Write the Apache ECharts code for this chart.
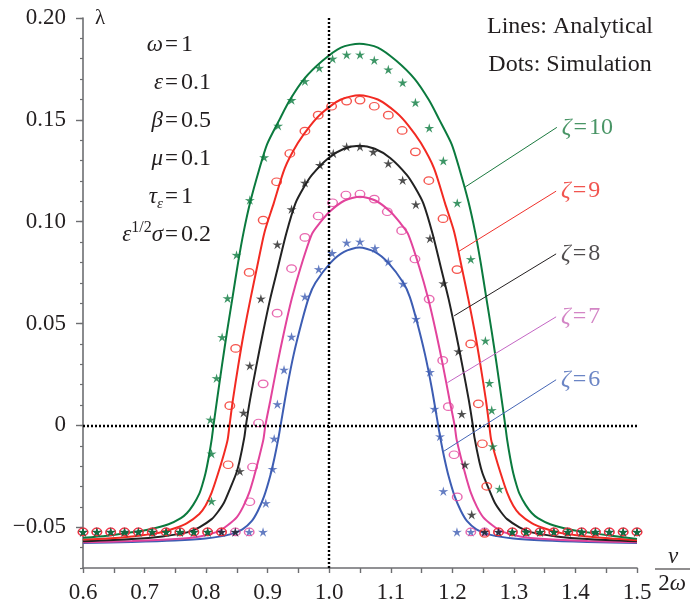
<!DOCTYPE html>
<html><head><meta charset="utf-8">
<script src="https://cdn.jsdelivr.net/npm/echarts@6/dist/echarts.min.js"></script>
<style>html,body{margin:0;padding:0;background:#fff}#c{width:691px;height:607px}</style>
</head><body><div id="c"></div>
<script>
// ---------- axis ticks / labels ----------
const xLabels = [0.6,0.7,0.8,0.9,1.0,1.1,1.2,1.3,1.4,1.5];
const yLabels = [-0.05,0,0.05,0.10,0.15,0.20];

// ---------- analytical curves (lines) ----------
const z10Nu  = [0.600,0.639,0.679,0.709,0.739,0.759,0.769,0.779,0.789,0.794,0.799,0.804,0.809,0.812,0.818,0.826,0.834,0.843,0.852,0.861,0.872,0.886,0.899,0.919,0.936,0.959,0.989,1.019,1.049,1.079,1.109,1.139,1.162,1.179,1.199,1.212,1.226,1.237,1.246,1.255,1.264,1.272,1.280,1.286,1.289,1.294,1.299,1.304,1.309,1.319,1.329,1.339,1.359,1.389,1.419,1.459,1.500];
const z10Lam = [-0.0552,-0.0542,-0.0525,-0.0510,-0.0485,-0.0455,-0.0430,-0.0390,-0.0335,-0.0290,-0.0235,-0.0160,-0.0070,0.0000,0.0130,0.0300,0.0460,0.0630,0.0800,0.0950,0.1100,0.1254,0.1380,0.1500,0.1597,0.1700,0.1790,0.1855,0.1874,0.1855,0.1790,0.1700,0.1597,0.1500,0.1380,0.1254,0.1100,0.0950,0.0800,0.0630,0.0460,0.0300,0.0130,0.0000,-0.0070,-0.0160,-0.0235,-0.0290,-0.0335,-0.0390,-0.0430,-0.0455,-0.0485,-0.0510,-0.0525,-0.0542,-0.0557];

const z9Nu  = [0.600,0.639,0.679,0.719,0.749,0.769,0.789,0.799,0.809,0.819,0.829,0.835,0.838,0.8435,0.852,0.861,0.872,0.883,0.895,0.9098,0.9277,0.949,0.969,0.989,1.019,1.049,1.079,1.109,1.129,1.149,1.1703,1.1882,1.203,1.215,1.226,1.237,1.246,1.2545,1.260,1.263,1.269,1.279,1.289,1.299,1.309,1.329,1.349,1.379,1.419,1.459,1.500];
const z9Lam = [-0.0560,-0.0555,-0.0545,-0.0530,-0.0505,-0.0480,-0.0435,-0.0395,-0.0330,-0.0240,-0.0140,-0.0070,0.0000,0.0125,0.0290,0.0450,0.0620,0.0780,0.0950,0.1090,0.1262,0.1386,0.1471,0.1536,0.1600,0.1621,0.1600,0.1536,0.1471,0.1386,0.1262,0.1090,0.0950,0.0780,0.0620,0.0450,0.0290,0.0125,0.0000,-0.0070,-0.0140,-0.0240,-0.0330,-0.0395,-0.0435,-0.0480,-0.0505,-0.0530,-0.0545,-0.0555,-0.0564];

const z8Nu  = [0.600,0.679,0.729,0.769,0.789,0.809,0.819,0.829,0.839,0.849,0.854,0.862,0.8647,0.8713,0.8815,0.892,0.904,0.917,0.930,0.9451,0.959,0.972,0.999,1.024,1.049,1.074,1.099,1.126,1.139,1.1529,1.168,1.181,1.194,1.206,1.2165,1.2267,1.2333,1.236,1.244,1.249,1.259,1.269,1.279,1.289,1.309,1.329,1.369,1.419,1.500];
const z8Lam = [-0.0569,-0.0558,-0.0545,-0.0525,-0.0500,-0.0460,-0.0425,-0.0380,-0.0310,-0.0235,-0.0180,-0.0060,0.0000,0.0125,0.0290,0.0450,0.0620,0.0780,0.0940,0.1090,0.1170,0.1230,0.1313,0.1358,0.1373,0.1358,0.1313,0.1230,0.1170,0.1090,0.0940,0.0780,0.0620,0.0450,0.0290,0.0125,0.0000,-0.0060,-0.0180,-0.0235,-0.0310,-0.0380,-0.0425,-0.0460,-0.0500,-0.0525,-0.0545,-0.0558,-0.0569];

const z7Nu  = [0.600,0.680,0.750,0.790,0.820,0.835,0.850,0.860,0.870,0.878,0.885,0.893,0.8963,0.9045,0.915,0.926,0.939,0.954,0.972,0.985,1.001,1.025,1.050,1.075,1.099,1.115,1.128,1.146,1.161,1.174,1.185,1.1955,1.2037,1.207,1.215,1.222,1.230,1.240,1.250,1.265,1.280,1.310,1.350,1.420,1.500];
const z7Lam = [-0.0574,-0.0568,-0.0558,-0.0545,-0.0520,-0.0490,-0.0450,-0.0400,-0.0330,-0.0250,-0.0170,-0.0070,0.0000,0.0125,0.0290,0.0450,0.0620,0.0780,0.0940,0.0995,0.1050,0.1104,0.1123,0.1104,0.1050,0.0995,0.0940,0.0780,0.0620,0.0450,0.0290,0.0125,0.0000,-0.0070,-0.0170,-0.0250,-0.0330,-0.0400,-0.0450,-0.0490,-0.0520,-0.0545,-0.0558,-0.0568,-0.0574];

const z6Nu  = [0.600,0.679,0.749,0.799,0.839,0.859,0.874,0.884,0.894,0.904,0.911,0.917,0.921,0.9315,0.9424,0.956,0.967,0.9776,1.002,1.024,1.049,1.074,1.096,1.1204,1.131,1.142,1.1555,1.1665,1.177,1.181,1.187,1.194,1.204,1.214,1.224,1.239,1.259,1.299,1.349,1.419,1.500];
const z6Lam = [-0.0577,-0.0572,-0.0565,-0.0555,-0.0535,-0.0510,-0.0470,-0.0420,-0.0350,-0.0250,-0.0160,-0.0070,0.0000,0.0185,0.0350,0.0515,0.0630,0.0700,0.0798,0.0852,0.0873,0.0852,0.0798,0.0700,0.0630,0.0515,0.0350,0.0185,0.0000,-0.0070,-0.0160,-0.0250,-0.0350,-0.0420,-0.0470,-0.0510,-0.0535,-0.0555,-0.0565,-0.0572,-0.0577];

// ---------- simulation dots ----------
const d10Nu  = [0.6,0.6225,0.645,0.6675,0.69,0.7125,0.735,0.7575,0.78,0.8025,0.8088,0.8088,0.807,0.817,0.826,0.8348,0.8494,0.871,0.8943,0.917,0.9388,0.9605,0.9838,1.0055,1.0283,1.05,1.0732,1.096,1.1193,1.140,1.1625,1.1854,1.208,1.230,1.2537,1.2602,1.264,1.2657,1.2765,1.2975,1.32,1.3425,1.365,1.3875,1.41,1.4325,1.455,1.4775,1.5];
const d10Lam = [-0.0523,-0.0523,-0.0523,-0.0523,-0.0523,-0.0523,-0.0523,-0.0523,-0.0523,-0.0523,-0.0372,-0.0139,0.0028,0.0232,0.0433,0.0624,0.0837,0.1106,0.1316,0.1471,0.1597,0.1690,0.1755,0.1800,0.1820,0.1820,0.1793,0.1747,0.1683,0.1585,0.1460,0.1299,0.1092,0.0816,0.0416,0.0208,0.0075,-0.0103,-0.0312,-0.0523,-0.0523,-0.0523,-0.0523,-0.0523,-0.0523,-0.0523,-0.0523,-0.0523,-0.0523];

const d9Nu  = [0.6,0.6225,0.645,0.6675,0.69,0.7125,0.735,0.7575,0.78,0.8025,0.825,0.8358,0.8385,0.848,0.87,0.8927,0.9145,0.936,0.9605,0.9821,1.0039,1.0283,1.05,1.0732,1.096,1.1185,1.14,1.1618,1.1849,1.2076,1.2299,1.2423,1.2488,1.2559,1.2525,1.275,1.2975,1.32,1.3425,1.365,1.3875,1.41,1.4325,1.455,1.4775,1.5];
const d9Lam = [-0.0523,-0.0523,-0.0523,-0.0523,-0.0523,-0.0523,-0.0523,-0.0523,-0.0523,-0.0523,-0.0523,-0.0193,0.0097,0.0378,0.0751,0.1008,0.1196,0.1335,0.1445,0.1523,0.1567,0.1592,0.1597,0.1567,0.1523,0.1448,0.1343,0.1202,0.1015,0.0765,0.0400,0.0106,-0.0090,-0.0299,-0.0530,-0.0523,-0.0523,-0.0523,-0.0523,-0.0523,-0.0523,-0.0523,-0.0523,-0.0523,-0.0523,-0.0523];

const d8Nu  = [0.6,0.6225,0.645,0.6675,0.69,0.7125,0.735,0.7575,0.78,0.8025,0.825,0.8475,0.8548,0.8608,0.871,0.889,0.9158,0.9388,0.9605,0.9849,1.0066,1.0283,1.05,1.0716,1.096,1.1193,1.1407,1.1637,1.1854,1.2098,1.2153,1.2206,1.2315,1.2525,1.275,1.2975,1.32,1.3425,1.365,1.3875,1.41,1.4325,1.455,1.4775,1.5];
const d8Lam = [-0.0523,-0.0523,-0.0523,-0.0523,-0.0523,-0.0523,-0.0523,-0.0523,-0.0523,-0.0523,-0.0523,-0.0523,-0.0225,0.0062,0.0293,0.0622,0.0888,0.1061,0.1191,0.1278,0.1335,0.1368,0.1368,0.1343,0.1286,0.1204,0.1085,0.0918,0.0697,0.0363,0.0056,-0.0193,-0.0438,-0.0523,-0.0523,-0.0523,-0.0523,-0.0523,-0.0523,-0.0523,-0.0523,-0.0523,-0.0523,-0.0523,-0.0523];

const d7Nu  = [0.6,0.6225,0.645,0.6675,0.69,0.7125,0.735,0.7575,0.78,0.8025,0.825,0.8475,0.87,0.871,0.8754,0.8852,0.8927,0.9154,0.9388,0.9605,0.9821,1.0055,1.0271,1.05,1.0732,1.0943,1.1177,1.1393,1.1624,1.1844,1.1935,1.2028,1.208,1.23,1.2525,1.275,1.2975,1.32,1.3425,1.365,1.3875,1.41,1.4325,1.455,1.4775,1.5];
const d7Lam = [-0.0523,-0.0523,-0.0523,-0.0523,-0.0523,-0.0523,-0.0523,-0.0523,-0.0523,-0.0523,-0.0523,-0.0523,-0.0523,-0.0375,-0.0204,0.0012,0.0204,0.0551,0.0770,0.0923,0.1028,0.1093,0.1131,0.1136,0.1111,0.1049,0.0956,0.0817,0.0620,0.0319,0.0092,-0.0144,-0.0351,-0.0523,-0.0523,-0.0523,-0.0523,-0.0523,-0.0523,-0.0523,-0.0523,-0.0523,-0.0523,-0.0523,-0.0523,-0.0523];

const d6Nu  = [0.6,0.6225,0.645,0.6675,0.69,0.7125,0.735,0.7575,0.78,0.8025,0.825,0.8475,0.87,0.8925,0.897,0.908,0.9106,0.9158,0.9266,0.9388,0.9605,0.9829,1.0047,1.0283,1.05,1.0743,1.096,1.1198,1.141,1.1637,1.171,1.18,1.1854,1.2075,1.23,1.2525,1.275,1.2975,1.32,1.3425,1.365,1.3875,1.41,1.4325,1.455,1.4775,1.5];
const d6Lam = [-0.0523,-0.0523,-0.0523,-0.0523,-0.0523,-0.0523,-0.0523,-0.0523,-0.0523,-0.0523,-0.0523,-0.0523,-0.0523,-0.0523,-0.0382,-0.0214,-0.0065,0.0104,0.0273,0.0435,0.0632,0.0767,0.0846,0.0897,0.0902,0.0870,0.0804,0.0695,0.0523,0.0262,0.0081,-0.0054,-0.0323,-0.0523,-0.0523,-0.0523,-0.0523,-0.0523,-0.0523,-0.0523,-0.0523,-0.0523,-0.0523,-0.0523,-0.0523,-0.0523,-0.0523];

// ---------- annotations (data coordinates) ----------
const zetaValues  = ['10','9','8','7','6'];
const leaderStart = [[1.2207,0.1170],[1.2098,0.0853],[1.2030,0.0538],[1.1920,0.0210],[1.1850,-0.0129]];
const leaderEnd   = [[1.3698,0.1463],[1.3686,0.1150],[1.3686,0.0842],[1.3686,0.0533],[1.3686,0.0224]];
const paramLeft   = ['{i|ω}','{i|ε}','{i|β}','{i|μ}','{i|τ}{s|ε}','{i|ε}{p|1/2}{i|σ}'];
const paramRight  = ['1','0.1','0.5','0.1','1','0.2'];
const noteLines   = ['Lines: Analytical','Dots: Simulation'];

// ---------- styles ----------
const FONT = "'Liberation Serif','DejaVu Serif',serif";
const TXT = '#231f20';
const AX = '#6d6e71';
const lineColors  = ['#0b7a3e','#f22a22','#222222','#e2439c','#3d5db3'];
const labelColors = ['#1c7a40','#ee2a24','#231f20','#c866b6','#4666b6'];
const leaderColors= ['#1c7a40','#f0302a','#231f20','#c466c4','#4666b6'];
const STAR = 'path://M10 0 L12.06 7.17 L19.51 6.91 L13.33 11.08 L15.88 18.09 L10 13.5 L4.12 18.09 L6.67 11.08 L0.49 6.91 L7.94 7.17 Z';

function pairs(xs, ys){ return xs.map((x,i)=>[x, ys[i]]); }

const lineSets = [[z10Nu,z10Lam],[z9Nu,z9Lam],[z8Nu,z8Lam],[z7Nu,z7Lam],[z6Nu,z6Lam]];
const dotSets  = [[d10Nu,d10Lam],[d9Nu,d9Lam],[d8Nu,d8Lam],[d7Nu,d7Lam],[d6Nu,d6Lam]];
const isStar   = [true,false,true,false,true];

const series = [];
// draw in order 6,7,8,9,10 so that green/red sit on top
for (let k = 4; k >= 0; k--) {
  const ml = [[{coord: leaderStart[k]},{coord: leaderEnd[k]}]];
  const s = {
    type:'line', name:'ζ='+zetaValues[k], data: pairs(lineSets[k][0], lineSets[k][1]),
    showSymbol:false, symbol:'none', smooth:0.25, z:2,
    lineStyle:{color: lineColors[k], width:2},
    markLine:{silent:true, symbol:['none','none'], label:{show:false}, animation:false,
      lineStyle:{color: leaderColors[k], width:1, type:'solid'}, data: ml}
  };
  if (k === 4) {
    s.markLine.data = [
      {xAxis:1.0, lineStyle:{color:'#000', width:2.4, type:[2,2]}},
      {yAxis:0, lineStyle:{color:'#000', width:2.4, type:[2,2]}},
      [{coord: leaderStart[k], lineStyle:{color: leaderColors[k], width:1, type:'solid'}},{coord: leaderEnd[k]}]
    ];
  }
  series.push(s);
}
for (let k = 4; k >= 0; k--) {
  series.push({
    type:'scatter', data: pairs(dotSets[k][0], dotSets[k][1]), z:3, silent:true,
    symbol: isStar[k] ? STAR : 'circle',
    symbolSize: isStar[k] ? 10 : [9.5,7.5],
    symbolKeepAspect: true,
    itemStyle: isStar[k] ? {color: lineColors[k]} :
      {color:'rgba(0,0,0,0)', borderColor: lineColors[k], borderWidth:1.3}
  });
}
// zeta labels at leader ends
series.push({
  type:'scatter', silent:true, z:5, symbolSize:0,
  data: zetaValues.map((z,i)=>({
    value: leaderEnd[i],
    label:{show:true, position:'right', distance:5,
      formatter:'{z|ζ}{e|=}{v|'+z+'}',
      rich:{
        z:{fontFamily:FONT, fontStyle:'italic', fontSize:24, color:labelColors[i]},
        e:{fontFamily:FONT, fontSize:24, color:labelColors[i], padding:[0,2,0,2]},
        v:{fontFamily:FONT, fontSize:24, color:labelColors[i]}
      }}
  }))
});

const graphics = [];
const rowY = [45,83,121,159,197,235];
paramLeft.forEach((t,i)=>{
  graphics.push({type:'text', x:163, y:rowY[i], silent:true, style:{
    text:t, align:'right', verticalAlign:'middle', textAlign:'right', textVerticalAlign:'middle',
    fill:TXT,
    rich:{
      i:{fontFamily:FONT, fontStyle:'italic', fontSize:23, lineHeight:30, fill:TXT, verticalAlign:'middle'},
      s:{fontFamily:FONT, fontStyle:'italic', fontSize:15, lineHeight:14, fill:TXT, verticalAlign:'bottom'},
      p:{fontFamily:FONT, fontSize:16, lineHeight:14, fill:TXT, verticalAlign:'top'}
    }}});
  graphics.push({type:'text', x:164, y:rowY[i], silent:true, style:{
    text:'{e|=}{v|'+paramRight[i]+'}', align:'left', verticalAlign:'middle', textAlign:'left', textVerticalAlign:'middle',
    fill:TXT,
    rich:{
      e:{fontFamily:FONT, fontSize:23, fill:TXT, padding:[0,3,0,1]},
      v:{fontFamily:FONT, fontSize:24, fill:TXT}
    }}});
});
noteLines.forEach((t,i)=>{
  graphics.push({type:'text', x:570, y:[27,65][i], silent:true, style:{
    text:t, fontFamily:FONT, fontSize:24, fill:TXT,
    align:'center', verticalAlign:'middle', textAlign:'center', textVerticalAlign:'middle'}});
});
// x-axis name: nu / 2 omega
graphics.push({type:'text', x:673, y:557, silent:true, style:{text:'ν', fontFamily:FONT, fontStyle:'italic', fontSize:23, fill:TXT,
  align:'center', verticalAlign:'middle', textAlign:'center', textVerticalAlign:'middle'}});
graphics.push({type:'line', silent:true, shape:{x1:655,y1:569,x2:690,y2:569}, style:{stroke:TXT, lineWidth:1.2}});
graphics.push({type:'text', x:672, y:584, silent:true, style:{text:'{a|2}{b|ω}',
  align:'center', verticalAlign:'middle', textAlign:'center', textVerticalAlign:'middle',
  rich:{a:{fontFamily:FONT, fontSize:23, fill:TXT}, b:{fontFamily:FONT, fontStyle:'italic', fontSize:23, fill:TXT}}}});

function yFmt(v){
  if (Math.abs(v) < 1e-9) return '0';
  const s = Math.abs(v).toFixed(2);
  return v < 0 ? '\u2212' + s : s;
}

const chart = echarts.init(document.getElementById('c'), null, {renderer:'canvas'});
chart.setOption({
  animation:false,
  backgroundColor:'#ffffff',
  grid:{left:83, right:54, top:18, bottom:39, containLabel:false},
  xAxis:{type:'value', min:0.6, max:1.5, interval:0.05,
    axisLine:{show:true, onZero:false, lineStyle:{color:AX, width:1.6}},
    axisTick:{show:true, length:5, lineStyle:{color:AX, width:1.4}},
    axisLabel:{customValues:xLabels, formatter:v=>v.toFixed(1), fontFamily:FONT, fontSize:23, color:TXT, margin:13},
    splitLine:{show:false}},
  yAxis:[
    {type:'value', min:-0.07, max:0.2, interval:0.01,
      axisLine:{show:true, onZero:false, lineStyle:{color:AX, width:1.6}},
      axisTick:{show:true, length:3, lineStyle:{color:AX, width:1.2}},
      axisLabel:{customValues:yLabels, formatter:yFmt, fontFamily:FONT, fontSize:23, color:TXT, margin:17},
      splitLine:{show:false},
      name:'λ', nameLocation:'end', nameGap:0,
      nameTextStyle:{fontFamily:FONT, fontSize:21, color:TXT, align:'left', verticalAlign:'middle', padding:[0,0,0,12]}},
    {type:'value', min:-0.07, max:0.2, interval:0.01, position:'left',
      axisLine:{show:false},
      axisTick:{show:true, length:7, customValues:yLabels, lineStyle:{color:AX, width:1.4}},
      axisLabel:{show:false}, splitLine:{show:false}}
  ],
  series: series,
  graphic: graphics
});
</script>
</body></html>
